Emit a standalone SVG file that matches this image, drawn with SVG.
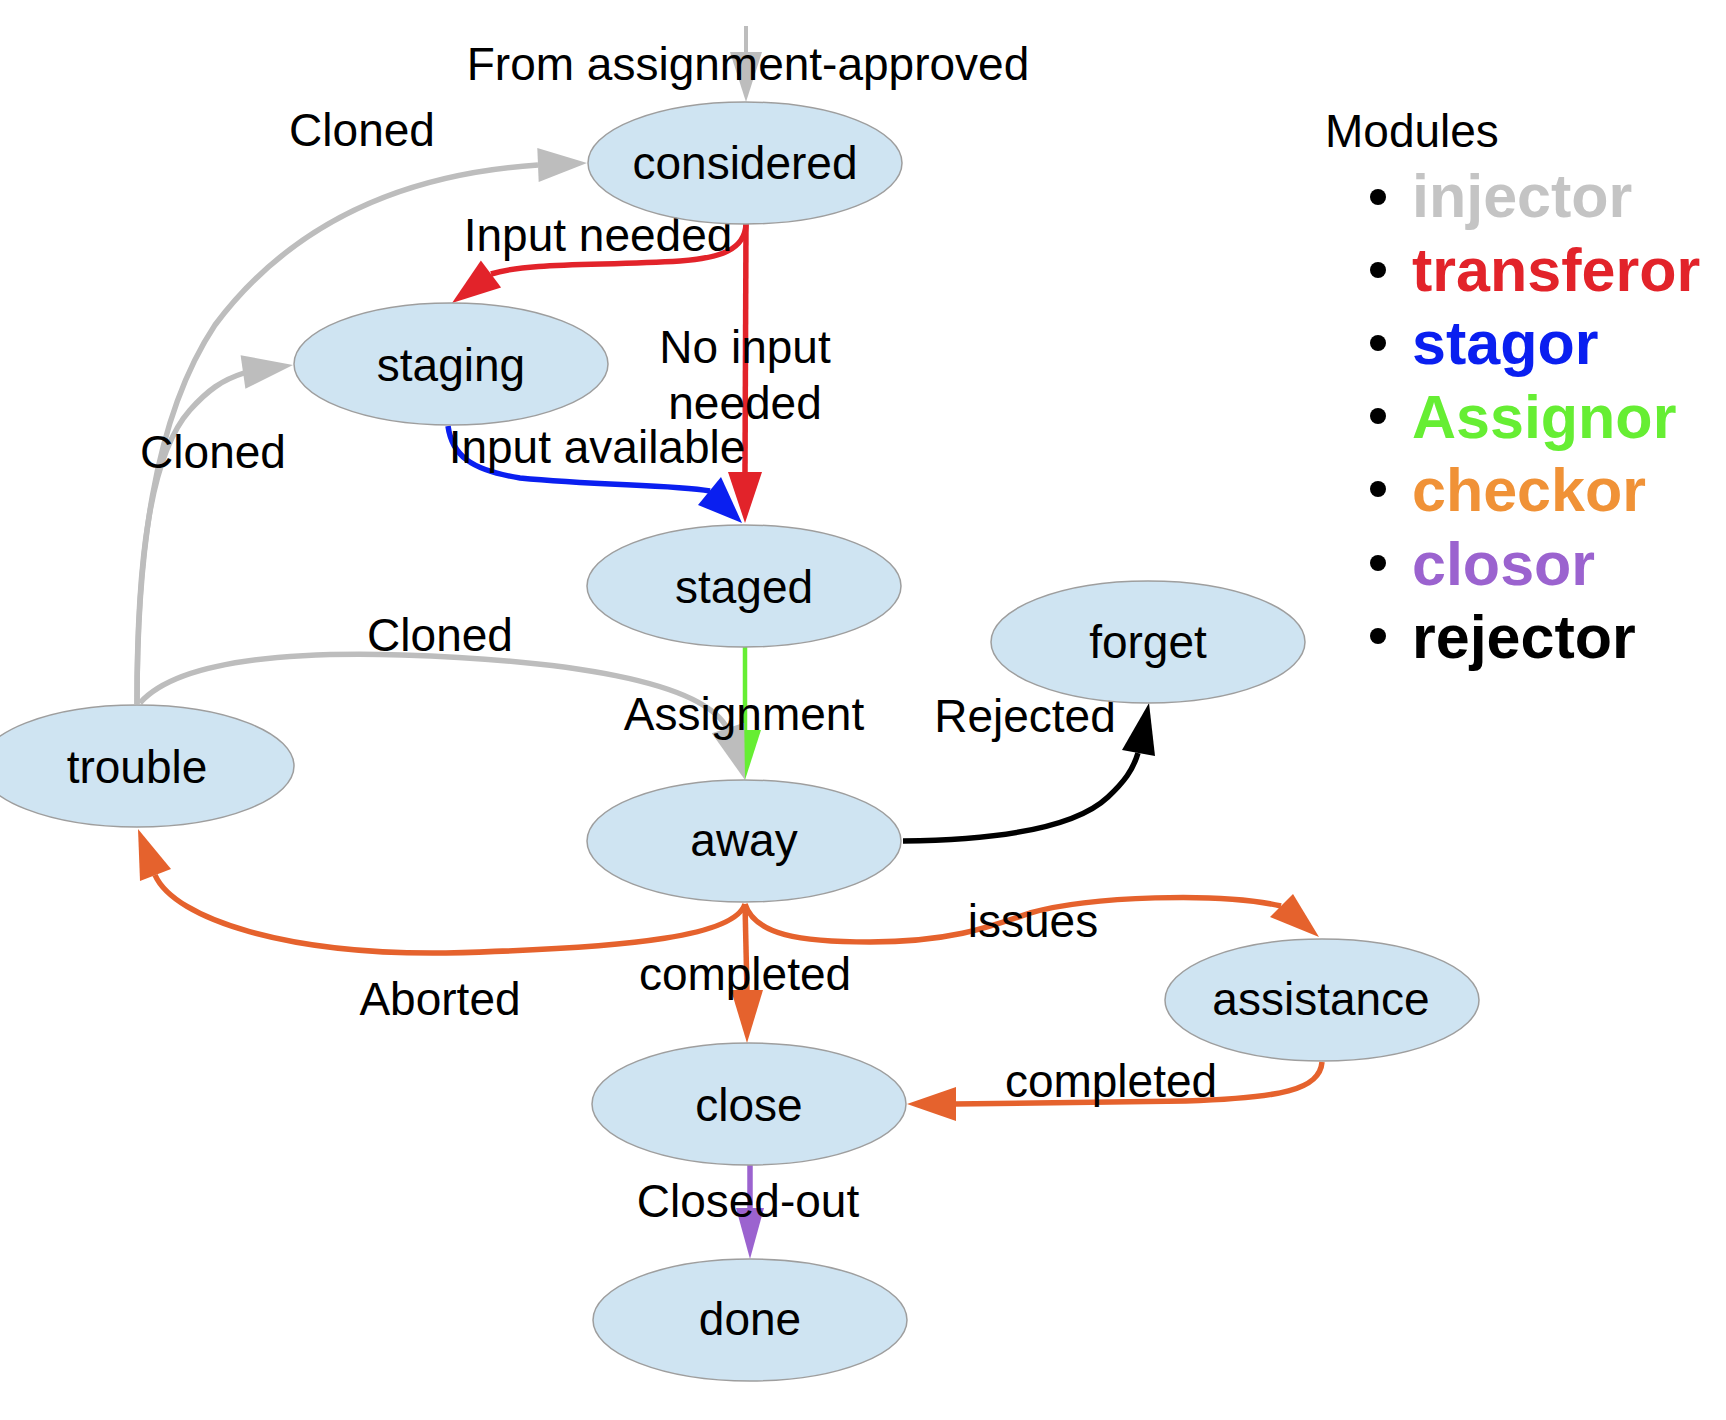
<svg xmlns="http://www.w3.org/2000/svg" width="1726" height="1420" viewBox="0 0 1726 1420">
<style>
  .node ellipse { fill: #cfe4f2; stroke: #9e9e9e; stroke-width: 1.5; }
  text { font-family: "Liberation Sans", Arial, sans-serif; font-size: 46px; fill: #000; }
  .node text, .lbl { text-anchor: middle; }
  .e { fill: none; stroke-width: 5.5; stroke-linecap: butt; }
  .gray { stroke: #bdbdbd; } .grayf { fill: #bdbdbd; }
  .red { stroke: #e2232a; } .redf { fill: #e2232a; }
  .blue { stroke: #0a1ff0; } .bluef { fill: #0a1ff0; }
  .green { stroke: #66ee33; } .greenf { fill: #66ee33; }
  .orange { stroke: #e5622d; } .orangef { fill: #e5622d; }
  .purple { stroke: #9b63cf; } .purplef { fill: #9b63cf; }
  .black { stroke: #000; } .blackf { fill: #000; }
  .leg { font-weight: bold; font-size: 61px; }
</style>
<rect width="1726" height="1420" fill="#fff"/>

<g id="connectors">
  <!-- entry -->
  <path class="e gray" style="stroke-width:4" d="M746,26 L746,54"/>
  <polygon class="grayf" points="730,52 762,52 746,102"/>
  <!-- trouble -> considered (Cloned) -->
  <path class="e gray" d="M137,704 C 137,560 152,420 215,325 C 290,225 400,174 538,165"/>
  <polygon class="grayf" points="538.7,182 537.3,148 587,163"/>
  <!-- trouble -> staging (Cloned) -->
  <path class="e gray" d="M137,704 C 137,560 150,455 190,410 C 208,390 222,380 244,373"/>
  <polygon class="grayf" points="245.4,388.8 240.6,355.2 293,365"/>
  <!-- considered -> staging (Input needed) -->
  <path class="e red" d="M746,224 C 745,250 720,258 680,261 C 600,266 530,262 491,274"/>
  <polygon class="redf" points="480.9,260.4 501.1,287.6 452,303"/>
  <!-- considered -> staged (No input needed) -->
  <path class="e red" d="M746,224 L745,474"/>
  <polygon class="redf" points="728,472 762,472 745,523"/>
  <!-- staging -> staged (Input available) -->
  <path class="e blue" d="M448,426 C 452,455 470,470 520,478 C 600,486 670,484 710,491"/>
  <polygon class="bluef" points="721,477 698,505 742,523"/>
  <!-- staged -> away (Assignment) -->
  <path class="e green" style="stroke-width:4.5" d="M745,647 L745,732"/>
  <polygon class="greenf" points="729,730 761,730 745,780"/>
  <!-- trouble -> away (Cloned) -->
  <path class="e gray" d="M140,703 C 180,658 300,652 402,655 C 560,660 705,680 728,730"/>
  <polygon class="grayf" points="711.8,733.3 744.2,722.7 745,780"/>
  <!-- away -> forget (Rejected) -->
  <path class="e black" d="M903,841 C 1000,840 1075,828 1108,797 C 1124,782 1133,770 1138,753"/>
  <polygon class="blackf" points="1122,750 1155,756 1149,703"/>
  <!-- away -> trouble (Aborted) -->
  <path class="e orange" d="M745,904 C 735,935 640,948 446,953 C 290,955 175,920 155,875"/>
  <polygon class="orangef" points="140,881 171,869 138,829"/>
  <!-- away -> close (completed) -->
  <path class="e orange" d="M745,904 L747,992"/>
  <polygon class="orangef" points="731,990 763,990 747,1043"/>
  <!-- away -> assistance (issues) -->
  <path class="e orange" d="M745,904 C 755,935 800,942 870,942 C 950,942 990,927 1030,913 C 1090,896 1220,892 1281,906"/>
  <polygon class="orangef" points="1270,917 1293,894 1319,937"/>
  <!-- assistance -> close (completed) -->
  <path class="e orange" d="M1322,1062 C 1320,1090 1280,1098 1186,1101 L 954,1104"/>
  <polygon class="orangef" points="956,1087 956,1121 907,1104"/>
  <!-- close -> done (Closed-out) -->
  <path class="e purple" d="M750,1164 L750,1210"/>
  <polygon class="purplef" points="736,1208 764,1208 750,1259"/>
</g>

<g id="edge-labels">
  <text class="lbl" x="748" y="80">From assignment-approved</text>
  <text class="lbl" x="362" y="146">Cloned</text>
  <text class="lbl" x="598" y="251">Input needed</text>
  <text class="lbl" x="745" y="363">No input</text>
  <text class="lbl" x="745" y="419">needed</text>
  <text class="lbl" x="213" y="468">Cloned</text>
  <text class="lbl" x="597" y="463">Input available</text>
  <text class="lbl" x="440" y="651">Cloned</text>
  <text class="lbl" x="744" y="730">Assignment</text>
  <text class="lbl" x="1025" y="732">Rejected</text>
  <text class="lbl" x="1033" y="937">issues</text>
  <text class="lbl" x="440" y="1015">Aborted</text>
  <text class="lbl" x="745" y="990">completed</text>
  <text class="lbl" x="1111" y="1097">completed</text>
  <text class="lbl" x="748" y="1217">Closed-out</text>
</g>

<g id="node-considered" class="node"><ellipse cx="745" cy="163" rx="157" ry="61"/><text x="745" y="179">considered</text></g>
<g id="node-staging" class="node"><ellipse cx="451" cy="364" rx="157" ry="61"/><text x="451" y="381">staging</text></g>
<g id="node-staged" class="node"><ellipse cx="744" cy="586" rx="157" ry="61"/><text x="744" y="603">staged</text></g>
<g id="node-forget" class="node"><ellipse cx="1148" cy="642" rx="157" ry="61"/><text x="1148" y="658">forget</text></g>
<g id="node-trouble" class="node"><ellipse cx="137" cy="766" rx="157" ry="61"/><text x="137" y="783">trouble</text></g>
<g id="node-away" class="node"><ellipse cx="744" cy="841" rx="157" ry="61"/><text x="744" y="856">away</text></g>
<g id="node-assistance" class="node"><ellipse cx="1322" cy="1000" rx="157" ry="61"/><text x="1321" y="1015">assistance</text></g>
<g id="node-close" class="node"><ellipse cx="749" cy="1104" rx="157" ry="61"/><text x="749" y="1121">close</text></g>
<g id="node-done" class="node"><ellipse cx="750" cy="1320" rx="157" ry="61"/><text x="750" y="1335">done</text></g>

<g id="legend">
  <text x="1325" y="147">Modules</text>
  <circle cx="1378" cy="197" r="8"/><text class="leg" x="1412" y="217" style="fill:#c4c4c4">injector</text>
  <circle cx="1378" cy="270" r="8"/><text class="leg" x="1412" y="290.5" style="fill:#e2232a">transferor</text>
  <circle cx="1378" cy="343" r="8"/><text class="leg" x="1412" y="364" style="fill:#0a1ff0">stagor</text>
  <circle cx="1378" cy="416" r="8"/><text class="leg" x="1412" y="437.5" style="fill:#66ee33">Assignor</text>
  <circle cx="1378" cy="489" r="8"/><text class="leg" x="1412" y="511" style="fill:#f09237">checkor</text>
  <circle cx="1378" cy="563" r="8"/><text class="leg" x="1412" y="584.5" style="fill:#9b63cf">closor</text>
  <circle cx="1378" cy="636" r="8"/><text class="leg" x="1412" y="658" style="fill:#000">rejector</text>
</g>
</svg>
